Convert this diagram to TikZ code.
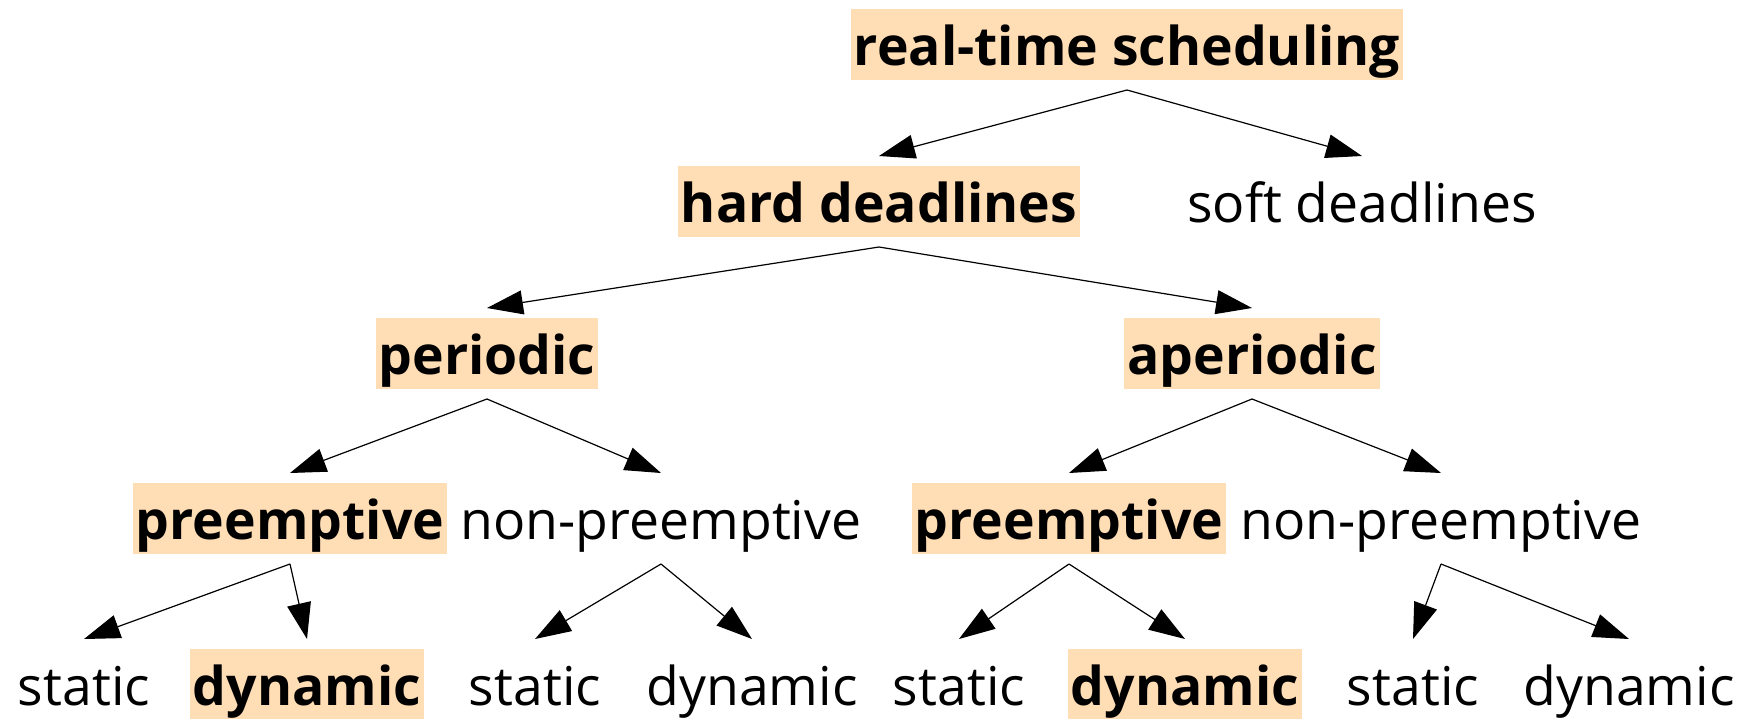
\documentclass[tikz,border=0pt]{standalone}
\usepackage{fontspec}
\setmainfont{Open Sans}
\usetikzlibrary{arrows.meta}
\definecolor{peach}{RGB}{255,221,181}

\begin{document}
\begin{tikzpicture}[x=1pt, y=-1pt,
	every node/.style={font=\fontsize{53.5}{64}\selectfont, text height=56pt, text depth=15pt, inner ysep=0pt, inner xsep=3pt, outer sep=10pt},
	hot/.style={fill=peach, font=\fontsize{53.5}{64}\selectfont\bfseries},
	>={Triangle[length=36pt,width=24pt]}, line width=1.2pt]
	\useasboundingbox (0,0) rectangle (1740,718);
	% levels
	\node[hot] (root) at (1127,44.5) {real-time scheduling};
	\node[hot] (hard) at (879,201.5) {hard deadlines};
	\node (soft) at (1362,201.5) {soft deadlines};
	\node[hot] (per) at (487,353.5) {periodic};
	\node[hot] (aper) at (1252,353.5) {aperiodic};
	\node[hot] (pre) at (290,518.5) {preemptive};
	\node (nonpre) at (661,518.5) {non-preemptive};
	\node[hot] (apre) at (1069,518.5) {preemptive};
	\node (anonpre) at (1441,518.5) {non-preemptive};
	% leaves
	\node (pstat) at (84,684.5) {static};
	\node[hot] (pdyn) at (307,684.5) {dynamic};
	\node (npstat) at (535,684.5) {static};
	\node (npdyn) at (752,684.5) {dynamic};
	\node (apstat) at (959,684.5) {static};
	\node[hot] (apdyn) at (1185,684.5) {dynamic};
	\node (anpstat) at (1413,684.5) {static};
	\node (anpdyn) at (1629,684.5) {dynamic};
	% arrows
	\draw[->] (root.south) -- (hard.north);
	\draw[->] (root.south) -- (soft.north);
	\draw[->] (hard.south) -- (per.north);
	\draw[->] (hard.south) -- (aper.north);
	\draw[->] (per.south) -- (pre.north);
	\draw[->] (per.south) -- (nonpre.north);
	\draw[->] (aper.south) -- (apre.north);
	\draw[->] (aper.south) -- (anonpre.north);
	\draw[->] (pre.south) -- (pstat.north);
	\draw[->] (pre.south) -- (pdyn.north);
	\draw[->] (nonpre.south) -- (npstat.north);
	\draw[->] (nonpre.south) -- (npdyn.north);
	\draw[->] (apre.south) -- (apstat.north);
	\draw[->] (apre.south) -- (apdyn.north);
	\draw[->] (anonpre.south) -- (anpstat.north);
	\draw[->] (anonpre.south) -- (anpdyn.north);
\end{tikzpicture}
\end{document}
